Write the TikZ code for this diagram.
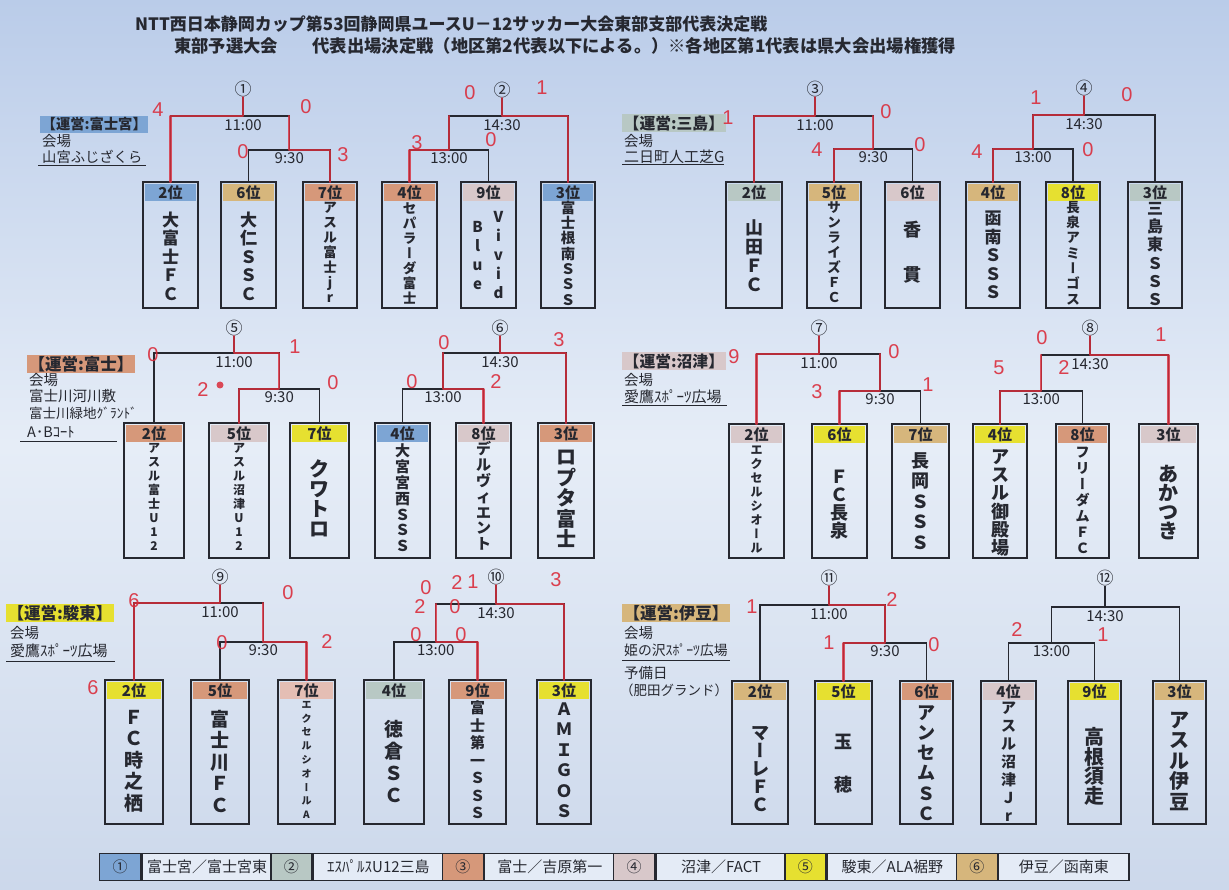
\documentclass[tikz,border=0pt]{standalone}
\usepackage{fontspec}
\setmainfont{Noto Sans CJK JP}
\newfontfamily\redfont{Liberation Sans}
\usetikzlibrary{calc}
\definecolor{cblue}{RGB}{125,165,212}
\definecolor{cgreen}{RGB}{184,200,196}
\definecolor{csalmon}{RGB}{214,152,122}
\definecolor{cpink}{RGB}{216,200,202}
\definecolor{clsal}{RGB}{228,190,180}
\definecolor{cyellow}{RGB}{230,224,48}
\definecolor{ctan}{RGB}{214,182,124}
\definecolor{redmark}{RGB}{218,45,60}
\definecolor{inkc}{RGB}{38,40,48}
\definecolor{bgtop}{RGB}{186,204,233}
\definecolor{bgmid}{RGB}{230,237,247}
\definecolor{bgbot}{RGB}{204,216,235}
\definecolor{legw}{RGB}{228,235,246}
\newcommand{\fsz}[2]{\fontsize{#1}{#2}\selectfont}
\newcommand{\vbar}{{\addfontfeature{RawFeature=+vert}ー}}
\tikzset{
  ln/.style={draw=inkc, line width=1.3pt},
  boxst/.style={draw=inkc, line width=1.5pt, inner sep=0pt, outer sep=0pt},
  rk/.style={font=\fsz{15}{15}\bfseries, inner sep=0pt, text=inkc},
  tt/.style={font=\fsz{15}{15}, inner sep=0pt, text=inkc},
  cnum/.style={font=\fsz{17}{17}, inner sep=0pt, text=inkc},
  tm/.style={align=center, inner sep=0pt, text=inkc},
  labst/.style={inner sep=1.5pt, anchor=west, text=inkc},
  plain/.style={font=\fsz{14.5}{15}, inner sep=0pt, anchor=west, text=inkc},
  ttl/.style={inner sep=0pt, anchor=west, text=inkc},
  redln/.style={draw=redmark, line width=2.4pt, line cap=round, line join=round, opacity=0.8},
  score/.style={text=redmark, font=\redfont\fsz{20}{20}, inner sep=0pt, opacity=0.9},
  leg/.style={draw=inkc, line width=1.3pt, inner sep=0pt, minimum height=27pt, anchor=north west, font=\fsz{15}{15}, text=inkc},
  uline/.style={draw=inkc, line width=1pt}
}
% #1 id, #2 xl, #3 xr, #4 ytop, #5 ybot, #6 colour, #7 rank
\newcommand{\teambox}[7]{%
  \fill[#6] (#2+2,#4+2) rectangle (#3-2,#4+19);
  \node[boxst, anchor=north west, minimum width={(#3-(#2))*1pt}, minimum height={(#5-(#4))*1pt}] (#1) at (#2,#4) {};
  \node[rk] (#1r) at ({(#2+#3)/2},#4+10.5) {#7位};
}
% #1 id, #2 box, #3 y, #4 size, #5 skip, #6 text
\newcommand{\tname}[6]{%
  \node[tm, font=\fsz{#4}{#5}\bfseries] (#1) at (#2.center |- 0,#3) {#6};
}
% type A: #1 prefix, #2 b1, #3 b2, #4 b3, #5 yTop, #6 yLow, #7 circle x, #8 label, #9 circle y
\newcommand{\brA}[9]{%
  \coordinate (#1m) at ($(#3.north)!0.5!(#4.north)$);
  \coordinate (#1L) at (#1m |- 0,#6);
  \coordinate (#1T) at (#1m |- 0,#5);
  \draw[ln] (#3.north) |- (#1L) -| (#4.north);
  \draw[ln] (#2.north) |- (#1T) -- (#1L);
  \node[cnum] (#1c) at (#7,#9) {#8};
  \draw[ln] (#1c.south) -- (#1c.south |- #1T);
  \node[tt] (#1t1) at (#7,#5+9) {11:00};
  \node[tt] (#1t2) at ([yshift=-8pt]#1L) {9:30};
}
% type B
\newcommand{\brB}[9]{%
  \coordinate (#1m) at ($(#2.north)!0.5!(#3.north)$);
  \coordinate (#1L) at (#1m |- 0,#6);
  \coordinate (#1T) at (#1m |- 0,#5);
  \draw[ln] (#2.north) |- (#1L) -| (#3.north);
  \draw[ln] (#1L) -- (#1T) -| (#4.north);
  \node[cnum] (#1c) at (#7,#9) {#8};
  \draw[ln] (#1c.south) -- (#1c.south |- #1T);
  \node[tt] (#1t1) at (#7,#5+9) {14:30};
  \node[tt] (#1t2) at ([yshift=-8pt]#1L) {13:00};
}
\begin{document}
\begin{tikzpicture}[x=1pt,y=-1pt]
\useasboundingbox (0,0) rectangle (1229,890);
\shade[top color=bgtop, bottom color=bgbot, middle color=bgmid] (0,0) rectangle (1229,890);

% titles
\node[ttl, font=\fsz{17}{17}\bfseries] (title1) at (135,24) {NTT西日本静岡カップ第53回静岡県ユースU－12サッカー大会東部支部代表決定戦};
\node[ttl, font=\fsz{17.3}{18}\bfseries] (title2) at (174,46) {東部予選大会　　代表出場決定戦（地区第2代表以下による。）※各地区第1代表は県大会出場権獲得};

% ---------- boxes ----------
\teambox{a1}{143}{198}{182}{308}{cblue}{2}
\teambox{a2}{221}{276}{182}{308}{ctan}{6}
\teambox{a3}{303}{357}{182}{308}{csalmon}{7}
\teambox{a4}{382}{437}{182}{308}{csalmon}{4}
\teambox{a5}{461}{516}{182}{308}{cpink}{9}
\teambox{a6}{541}{595}{182}{308}{cblue}{3}
\teambox{b1}{726}{782}{182}{308}{cgreen}{2}
\teambox{b2}{807}{861}{182}{308}{ctan}{5}
\teambox{b3}{885}{940}{182}{308}{cpink}{6}
\teambox{b4}{966}{1020}{182}{308}{ctan}{4}
\teambox{b5}{1046}{1100}{182}{308}{cyellow}{8}
\teambox{b6}{1128}{1182}{182}{308}{cgreen}{3}

\teambox{c1}{124}{184}{423}{558}{csalmon}{2}
\teambox{c2}{209}{269}{423}{558}{cpink}{5}
\teambox{c3}{290}{349}{423}{558}{cyellow}{7}
\teambox{c4}{375}{430}{423}{558}{cblue}{4}
\teambox{c5}{456}{511}{423}{558}{cpink}{8}
\teambox{c6}{538}{594}{423}{558}{csalmon}{3}
\teambox{d1}{729}{784}{424}{558}{cpink}{2}
\teambox{d2}{812}{867}{424}{558}{cyellow}{6}
\teambox{d3}{892}{949}{424}{558}{ctan}{7}
\teambox{d4}{973}{1027}{424}{558}{cyellow}{4}
\teambox{d5}{1056}{1109}{424}{558}{csalmon}{8}
\teambox{d6}{1139}{1198}{424}{558}{cpink}{3}

\teambox{e1}{105}{163}{680}{824}{cyellow}{2}
\teambox{e2}{191}{249}{680}{824}{csalmon}{5}
\teambox{e3}{278}{335}{680}{824}{clsal}{7}
\teambox{e4}{364}{424}{680}{824}{cgreen}{4}
\teambox{e5}{449}{506}{680}{824}{csalmon}{9}
\teambox{e6}{537}{591}{680}{824}{cyellow}{3}
\teambox{f1}{732}{788}{681}{824}{ctan}{2}
\teambox{f2}{815}{872}{681}{824}{cyellow}{5}
\teambox{f3}{900}{953}{681}{824}{csalmon}{6}
\teambox{f4}{981}{1036}{681}{824}{cpink}{4}
\teambox{f5}{1068}{1121}{681}{824}{cyellow}{9}
\teambox{f6}{1153}{1206}{681}{824}{ctan}{3}

% ---------- team names ----------
\tname{a1n}{a1}{256}{17}{18.5}{大\\富\\士\\Ｆ\\Ｃ}
\tname{a2n}{a2}{256}{17}{18.5}{大\\仁\\Ｓ\\Ｓ\\Ｃ}
\tname{a3n}{a3}{252}{13.5}{15}{ア\\ス\\ル\\富\\士\\j\\r}
\tname{a4n}{a4}{253}{13.5}{15}{セ\\パ\\ラ\\\vbar\\ダ\\富\\士}
\node[tm, font=\fsz{15}{19}\bfseries] (a5v) at ($(a5.center |- 0,255)+(10,0)$) {V\\i\\v\\i\\d};
\node[tm, font=\fsz{15}{19}\bfseries] (a5b) at ($(a5.center |- 0,256)+(-11,0)$) {B\\l\\u\\e};
\tname{a6n}{a6}{253}{14.5}{15.3}{富\\士\\根\\南\\Ｓ\\Ｓ\\Ｓ}
\tname{b1n}{b1}{256}{18}{19}{山\\田\\Ｆ\\Ｃ}
\tname{b2n}{b2}{252}{13.5}{15}{サ\\ン\\ラ\\イ\\ズ\\Ｆ\\Ｃ}
\tname{b3n}{b3}{252}{18}{45}{香\\貫}
\tname{b4n}{b4}{255}{17}{18.5}{函\\南\\Ｓ\\Ｓ\\Ｓ}
\tname{b5n}{b5}{253}{13.5}{15.3}{長\\泉\\ア\\ミ\\\vbar\\ゴ\\ス}
\tname{b6n}{b6}{254}{16}{18.2}{三\\島\\東\\Ｓ\\Ｓ\\Ｓ}

\tname{c1n}{c1}{497}{12}{14}{ア\\ス\\ル\\富\\士\\U\\1\\2}
\tname{c2n}{c2}{497}{12}{14}{ア\\ス\\ル\\沼\\津\\U\\1\\2}
\tname{c3n}{c3}{498}{20}{20}{ク\\ワ\\ト\\ロ}
\tname{c4n}{c4}{498}{15}{15.8}{大\\宮\\宮\\西\\Ｓ\\Ｓ\\Ｓ}
\tname{c5n}{c5}{496}{15}{15.8}{デ\\ル\\ヴ\\ィ\\エ\\ン\\ト}
\tname{c6n}{c6}{499}{20}{20.5}{ロ\\プ\\タ\\富\\士}
\tname{d1n}{d1}{500}{12}{14}{エ\\ク\\セ\\ル\\シ\\オ\\\vbar\\ル}
\tname{d2n}{d2}{505}{18}{18}{Ｆ\\Ｃ\\長\\泉}
\tname{d3n}{d3}{501}{18}{20.5}{長\\岡\\Ｓ\\Ｓ\\Ｓ}
\tname{d4n}{d4}{503}{18}{18.2}{ア\\ス\\ル\\御\\殿\\場}
\tname{d5n}{d5}{500}{14}{16}{フ\\リ\\\vbar\\ダ\\ム\\Ｆ\\Ｃ}
\tname{d6n}{d6}{503}{20}{19}{あ\\か\\つ\\き}

\tname{e1n}{e1}{761}{19}{21.5}{Ｆ\\Ｃ\\時\\之\\栖}
\tname{e2n}{e2}{761}{19}{21.5}{富\\士\\川\\Ｆ\\Ｃ}
\tname{e3n}{e3}{760}{10}{13.8}{エ\\ク\\セ\\ル\\シ\\オ\\\vbar\\ル\\A}
\tname{e4n}{e4}{761}{19}{22}{徳\\倉\\Ｓ\\Ｃ}
\tname{e5n}{e5}{760}{15}{17.5}{富\\士\\第\\一\\Ｓ\\Ｓ\\Ｓ}
\tname{e6n}{e6}{760}{17}{20.5}{Ａ\\Ｍ\\Ｉ\\Ｇ\\Ｏ\\Ｓ}
\tname{f1n}{f1}{769}{18}{17.8}{マ\\\vbar\\レ\\Ｆ\\Ｃ}
\tname{f2n}{f2}{764}{18}{43}{玉\\穂}
\tname{f3n}{f3}{763}{18}{20.3}{ア\\ン\\セ\\ム\\Ｓ\\Ｃ}
\tname{f4n}{f4}{762}{15}{18}{ア\\ス\\ル\\沼\\津\\Ｊ\\r}
\tname{f5n}{f5}{766}{20}{19}{高\\根\\須\\走}
\tname{f6n}{f6}{761}{20}{20.5}{ア\\ス\\ル\\伊\\豆}

% ---------- brackets ----------
\brA{p1}{a1}{a2}{a3}{116}{150}{243}{①}{89}
\brB{p2}{a4}{a5}{a6}{116}{150}{502}{②}{90}
\brA{p3}{b1}{b2}{b3}{116}{149}{815}{③}{89}
\brB{p4}{b4}{b5}{b6}{115}{149}{1084}{④}{88}
\brA{p5}{c1}{c2}{c3}{353}{389}{234}{⑤}{328}
\brB{p6}{c4}{c5}{c6}{353}{389}{500}{⑥}{328}
\brA{p7}{d1}{d2}{d3}{354}{391}{819}{⑦}{328}
\brB{p8}{d4}{d5}{d6}{355}{391}{1090}{⑧}{328}
\brA{p9}{e1}{e2}{e3}{603}{642}{220}{⑨}{577}
\brB{p10}{e4}{e5}{e6}{604}{642}{496}{⑩}{577}
\brA{p11}{f1}{f2}{f3}{605}{643}{829}{⑪}{578}
\brB{p12}{f4}{f5}{f6}{607}{643}{1105}{⑫}{578}

% ---------- district labels ----------
\node[labst, fill=cblue, font=\fsz{14.3}{15}\bfseries] (lab1) at (40,124.5) {【運営:富士宮】};
\node[plain] (v1a) at (42,141) {会場};
\node[plain, font=\fsz{14.3}{15}] (v1b) at (42,157) {山宮ふじざくら};
\draw[uline] (38,166) -- (146,166);

\node[labst, fill=cgreen, font=\fsz{15.8}{16}\bfseries] (lab3) at (622,123) {【運営:三島】};
\node[plain] (v3a) at (624,141) {会場};
\node[plain, font=\fsz{15}{15}] (v3b) at (624,157) {二日町人工芝G};
\draw[uline] (622,165) -- (724,165);

\node[labst, fill=csalmon, font=\fsz{16.5}{17}\bfseries] (lab5) at (27,364) {【運営:富士】};
\node[plain] (v5a) at (29,380) {会場};
\node[plain] (v5b) at (29,396) {富士川河川敷};
\node[plain, font=\fsz{13.5}{14}] (v5c) at (29,413) {富士川緑地ｸﾞﾗﾝﾄﾞ};
\node[plain] (v5d) at (27,432) {A･Bｺｰﾄ};
\draw[uline] (20,441) -- (117,441);

\node[labst, fill=cpink, font=\fsz{15.8}{16}\bfseries] (lab7) at (622,361) {【運営:沼津】};
\node[plain] (v7a) at (624,380) {会場};
\node[plain, font=\fsz{15}{15}] (v7b) at (624,397) {愛鷹ｽﾎﾟｰﾂ広場};
\draw[uline] (622,406) -- (727,406);

\node[labst, fill=cyellow, font=\fsz{16.5}{17}\bfseries] (lab9) at (6,613) {【運営:駿東】};
\node[plain] (v9a) at (10,633) {会場};
\node[plain, font=\fsz{15}{15}] (v9b) at (10,651) {愛鷹ｽﾎﾟｰﾂ広場};
\draw[uline] (6,661) -- (115,661);

\node[labst, fill=ctan, font=\fsz{16.5}{17}\bfseries] (lab11) at (622,613) {【運営:伊豆】};
\node[plain] (v11a) at (624,633) {会場};
\node[plain, font=\fsz{13.8}{14}] (v11b) at (624,650) {姫の沢ｽﾎﾟｰﾂ広場};
\draw[uline] (622,660) -- (730,660);
\node[plain] (v11c) at (624,673) {予備日};
\node[plain, font=\fsz{13.5}{14}] (v11d) at (620,690) {（肥田グランド）};

% ---------- legend ----------
\foreach \c/\n/\t [count=\i] in {cblue/①/富士宮／富士宮東, cgreen/②/ｴｽﾊﾟﾙｽU12三島, csalmon/③/富士／吉原第一, cpink/④/沼津／FACT, cyellow/⑤/駿東／ALA裾野, ctan/⑥/伊豆／函南東}{
  \pgfmathsetmacro\xa{99+(\i-1)*171.33}
  \node[leg, fill=\c, minimum width=41pt] (lgn\i) at (\xa,853) {\n};
  \node[leg, fill=legw, minimum width=130.33pt] (lgt\i) at (lgn\i.north east) {\t};
}

% ---------- handwritten red marks ----------
\begin{scope}[shift={(1.5,1)}]
\draw[redln] (a1.north) |- (p1c.south |- p1T) -- (p1c.south);
\draw[redln] (p1T) -- (p1L) -| (a3.north);
\draw[redln] (a4.north) |- (p2L) -- (p2T);
\draw[redln] (p2c.south) -- (p2c.south |- p2T) -| (a6.north);
\draw[redln] (b1.north) |- (p3c.south |- p3T) -- (p3c.south);
\draw[redln] (p3T) -- (p3L) -| (b2.north);
\draw[redln] (b4.north) |- (p4L) -- (p4T) -- (p4c.south |- p4T) -- (p4c.south);
\draw[redln] (p5c.south) -- (p5c.south |- p5T) -- (p5T) -- (p5L) -| (c2.north);
\draw[redln] (p6c.south) -- (p6c.south |- p6T) -| (c6.north);
\draw[redln] (p6T) -- (p6L) -| (c5.north);
\draw[redln] (d1.north) |- (p7c.south |- p7T) -- (p7c.south);
\draw[redln] (p7T) -- (p7L) -| (d2.north);
\draw[redln] (p8c.south) -- (p8c.south |- p8T) -| (d6.north);
\draw[redln] (d4.north) |- (p8L) -- (p8T);
\draw[redln] (e1.north) |- (p9c.south |- p9T) -- (p9c.south);
\draw[redln] (p9T) -- (p9L) -| (e3.north);
\draw[redln] (p10c.south) -- (p10c.south |- p10T) -| (e6.north);
\draw[redln] (p10T) -- (p10L) -| (e5.north);
\draw[redln] (p11c.south) -- (p11c.south |- p11T) -- (p11T) -- (p11L) -| (f2.north);
\end{scope}
\fill[redmark, opacity=0.85] (220,385) circle (3.5);
\foreach \x/\y/\t [count=\k] in {158/110/4, 306/107/0, 243/152/0, 343/155/3,
 470/93/0, 542/88/1, 417/143/3, 491/140/0,
 728/118/1, 886/112/0, 817/150/4, 920/145/0,
 1036/98/1, 1127/95/0, 977/152/4, 1088/150/0,
 153/355/0, 295/347/1, 203/390/2, 333/383/0,
 444/343/0, 559/340/3, 412/382/0, 496/382/2,
 734/357/9, 894/352/0, 817/392/3, 928/385/1,
 1042/338/0, 1161/335/1, 999/368/5, 1064/368/2,
 134/601/6, 288/593/0, 93/688/6, 222/643/0, 327/642/2,
 426/588/0, 457/583/2, 473/582/1, 556/580/3, 420/607/2, 455/607/0, 416/635/0, 461/635/0,
 752/607/1, 892/600/2, 829/643/1, 934/645/0,
 1017/630/2, 1103/635/1}
 {\node[score] (sc\k) at (\x,\y) {\t};}
\end{tikzpicture}
\end{document}
